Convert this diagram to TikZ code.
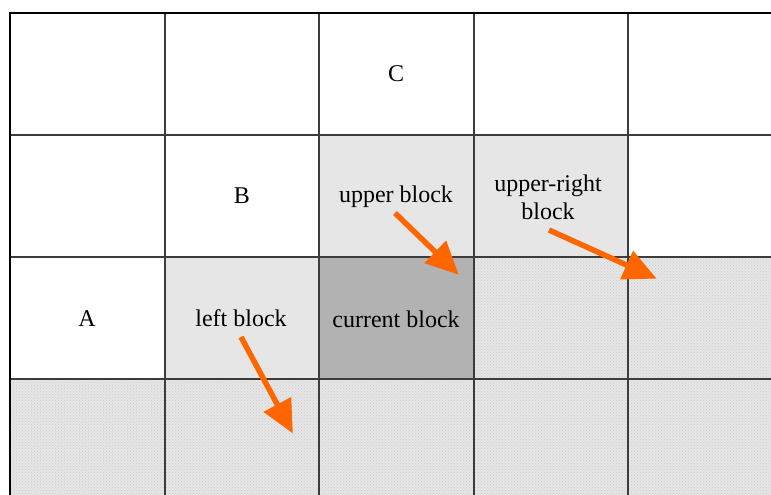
\documentclass[tikz,border=0pt]{standalone}
\usepackage{fontspec}
\setmainfont{Liberation Serif}
\usetikzlibrary{arrows.meta,patterns}
\definecolor{arrowOrange}{RGB}{255,102,0}
\definecolor{cellLight}{RGB}{230,230,230}
\definecolor{cellDark}{RGB}{178,178,178}
\definecolor{cellDotted}{RGB}{230,230,230}
\definecolor{gridLine}{RGB}{60,60,60}

\begin{document}
\begin{tikzpicture}[x=1pt, y=-1pt, font=\fontsize{24}{28}\selectfont,
  gridline/.style={gridLine, line width=1.6pt},
  border/.style={black, line width=2.4pt},
  label/.style={inner sep=0pt, align=center},
  moveArrow/.style={arrowOrange, line width=5.5pt, -{Triangle[length=33pt, width=30pt]}, shorten >=-4pt}]
\useasboundingbox (0,0) rectangle (771,495);
% cells
\foreach \xa/\ya/\xb/\yb in {10/379/771/495, 474/257/771/379}
  { \fill[cellDotted] (\xa,\ya) rectangle (\xb,\yb);
    \fill[pattern=crosshatch dots, pattern color=black!20] (\xa,\ya) rectangle (\xb,\yb); }
\foreach \xa/\ya/\xb/\yb in {319/135/474/257, 474/135/628/257, 165/257/319/379}
  \fill[cellLight] (\xa,\ya) rectangle (\xb,\yb);
\fill[cellDark] (319,257) rectangle (474,379);
% grid
\foreach \v in {165,319,474,628} \draw[gridline] (\v,13) -- (\v,495);
\foreach \v in {135,257,379} \draw[gridline] (10,\v) -- (771,\v);
\draw[border] (10,495) -- (10,13) -- (771,13);
% labels
\node[label] (cC) at (396,74) {C};
\node[label] (cB) at (242,196) {B};
\node[label] (cA) at (87,319) {A};
\node[label] (upper) at (396,197) {upper block};
\node[label] (upperRight) at (548,197) {upper-right\\[0pt]block};
\node[label] (left) at (241,318) {left block};
\node[label] (current) at (396,319) {current block};
% arrows
\coordinate (upperFrom) at (395,213);
\coordinate (upperTo) at (456,272);
\coordinate (urFrom) at (549,230);
\coordinate (urTo) at (653,277);
\coordinate (leftFrom) at (241,337);
\coordinate (leftTo) at (291,430);
\draw[moveArrow] (upperFrom) -- (upperTo);
\draw[moveArrow] (urFrom) -- (urTo);
\draw[moveArrow] (leftFrom) -- (leftTo);
\end{tikzpicture}
\end{document}
